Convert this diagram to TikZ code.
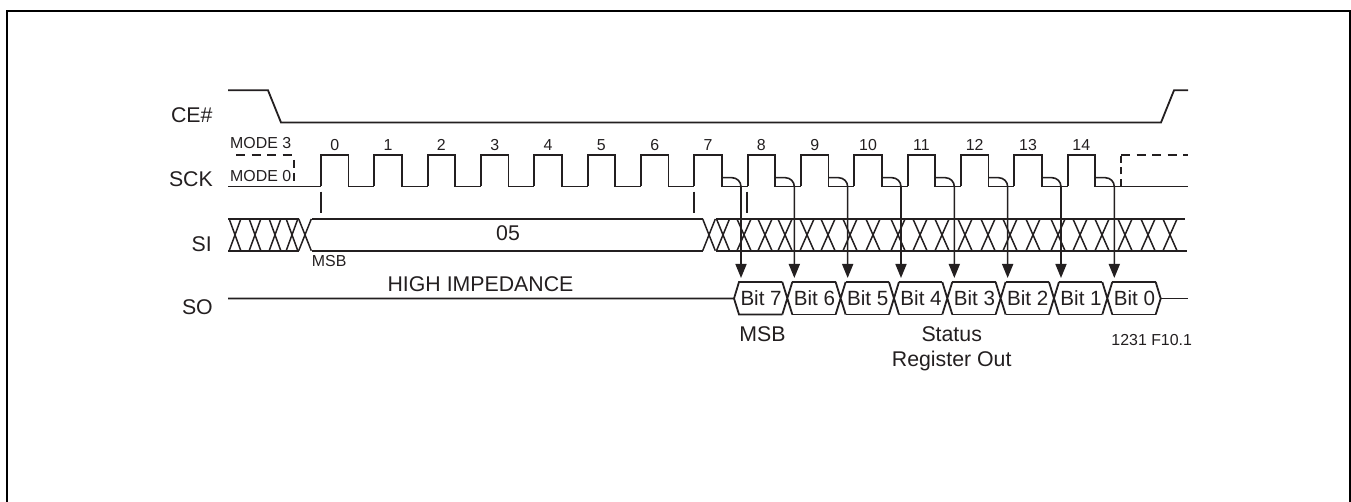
\documentclass[tikz,border=0pt]{standalone}
\usepackage{fontspec}
\setmainfont{Liberation Sans}
\usetikzlibrary{arrows.meta}
\definecolor{ink}{HTML}{231F20}
\tikzset{
  wave/.style={draw=ink,line width=1.8pt,line join=miter},
  thin wave/.style={draw=ink,line width=1.5pt},
  dash wave/.style={draw=ink,line width=1.7pt,dash pattern=on 9pt off 6.5pt},
  frame/.style={draw=black,line width=2.5pt},
  biglbl/.style={text=ink,inner sep=0pt,font=\fontsize{21.3}{24}\selectfont,text height=15.2pt,text depth=0pt},
  bitlbl/.style={text=ink,inner sep=0pt,font=\fontsize{20.6}{24}\selectfont,text height=14.7pt,text depth=0pt},
  smalllbl/.style={text=ink,inner sep=0pt,font=\fontsize{15.9}{18}\selectfont,text height=11.4pt,text depth=0pt},
  clocktip/.style={-{Triangle[length=14pt,width=11pt]},draw=ink,line width=1.6pt,rounded corners=9pt},
}
\begin{document}
\begin{tikzpicture}[x=1pt,y=-1pt]
\useasboundingbox (0,0) rectangle (1351,502);
\draw[frame] (7.2,502) -- (7.2,11) -- (1350,11) -- (1350,502);
% CE#
\draw[wave] (228,90.3) -- (268,90.3) -- (281,122.5) -- (1161,122.5) -- (1174,90.3) -- (1188,90.3);
% SCK
\draw[wave] (228,186.5) -- (321,186.5);
\foreach \k in {0,...,14}{
  \pgfmathsetmacro{\r}{321+53.33*\k}
  \pgfmathsetmacro{\f}{\r+27.5}
  \pgfmathsetmacro{\n}{\r+53.33}
  \draw[wave] (\r,186.5) -- (\r,154.7) -- (\f,154.7) -- (\f,186.5) -- (\n,186.5);
  \node[smalllbl] (n\k) at (\r+13.7,145) {\k};
}
\draw[wave] (1120,186.5) -- (1188,186.5);
\draw[dash wave] (236,154.7) -- (294,154.7);
\draw[draw=ink,line width=1.7pt,dash pattern=on 8pt off 5pt] (294,160) -- (294,185);
\draw[draw=ink,line width=1.7pt,dash pattern=on 7pt off 4.5pt] (1121,186) -- (1121,154.7);
\draw[dash wave] (1121,154.7) -- (1188,154.7);
% reference ticks
\foreach \x in {321,694,747} \draw[wave] (\x,191.7) -- (\x,213);
% SI
\draw[wave] (228,219) -- (299,219) (228,250.7) -- (299,250.7);
\foreach \c/\h in {235/5.8,255/5.8,275/5.8,292/5.8,305/6.3}
  \draw[thin wave] (\c-\h,219) -- (\c+\h,250.7) (\c-\h,250.7) -- (\c+\h,219);
\draw[wave] (311.5,219) -- (703,219) (311.5,250.7) -- (703,250.7);
\foreach \c/\h in {709/6.3,723/6.5,744/7,765/7,785/7,807/7,828/7,850/7,873/7,898/7,920/7,942/7,965/7,988/7,1010/7,1033/7,1058/7,1080/7,1102/7,1125/7,1148/7,1170/7}
  \draw[thin wave] (\c-\h,219) -- (\c+\h,250.7) (\c-\h,250.7) -- (\c+\h,219);
\draw[wave] (715.5,219) -- (1185,219) (715.5,250.7) -- (1187,250.7);
% SO
\draw[wave] (228,298.5) -- (734,298.5) -- (739,282) -- (782.3,282);
\draw[wave] (734,298.5) -- (739,314.5) -- (782.3,314.5);
\foreach \k/\b in {0/7,1/6,2/5,3/4,4/3,5/2,6/1,7/0}{
  \pgfmathsetmacro{\c}{787.3+53.33*\k}
  \pgfmathsetmacro{\m}{\c-26.7+0.5}
  \node[bitlbl] (bit\b) at (\m,298.5) {Bit \b};
  \ifnum\k<7
    \draw[wave] (\c-5,282) -- (\c+5,314.5) (\c-5,314.5) -- (\c+5,282);
    \draw[wave] (\c+5,282) -- (\c+48.3,282) (\c+5,314.5) -- (\c+48.3,314.5);
  \fi
}
\draw[wave] (1155.7,282) -- (1160.7,298.5) -- (1155.7,314.5);
\draw[wave] (1160.7,298.5) -- (1188,298.5);
% clock-to-output arrows
\foreach \k in {0,...,7}{
  \pgfmathsetmacro{\s}{721.7+53.33*\k}
  \pgfmathsetmacro{\a}{741+53.33*\k}
  \coordinate (from\k) at (\s,177.7);
  \coordinate (bend\k) at (\a,177.7);
  \coordinate (to\k) at (\a,278);
  \draw[clocktip] (from\k) -- (bend\k) -- (to\k);
}
% labels
\node[biglbl,anchor=east] (ce) at (212.7,115) {CE\#};
\node[biglbl,anchor=east] (sck) at (213,179) {SCK};
\node[biglbl,anchor=east] (si) at (212,244) {SI};
\node[biglbl,anchor=east] (so) at (213,307) {SO};
\node[smalllbl,anchor=west] (m3) at (230,143) {MODE 3};
\node[smalllbl,anchor=west] (m0) at (230,175.7) {MODE 0};
\node[smalllbl,anchor=west] (msb1) at (311.7,260.7) {MSB};
\node[biglbl] (v05) at (508,233) {05};
\node[biglbl] (hi) at (480.5,284) {HIGH IMPEDANCE};
\node[biglbl] (msb2) at (762.5,334) {MSB};
\node[biglbl] (st) at (951.7,334) {Status};
\node[biglbl] (ro) at (951.7,359) {Register Out};
\node[smalllbl] (fig) at (1151.7,340) {1231 F10.1};
\end{tikzpicture}
\end{document}
